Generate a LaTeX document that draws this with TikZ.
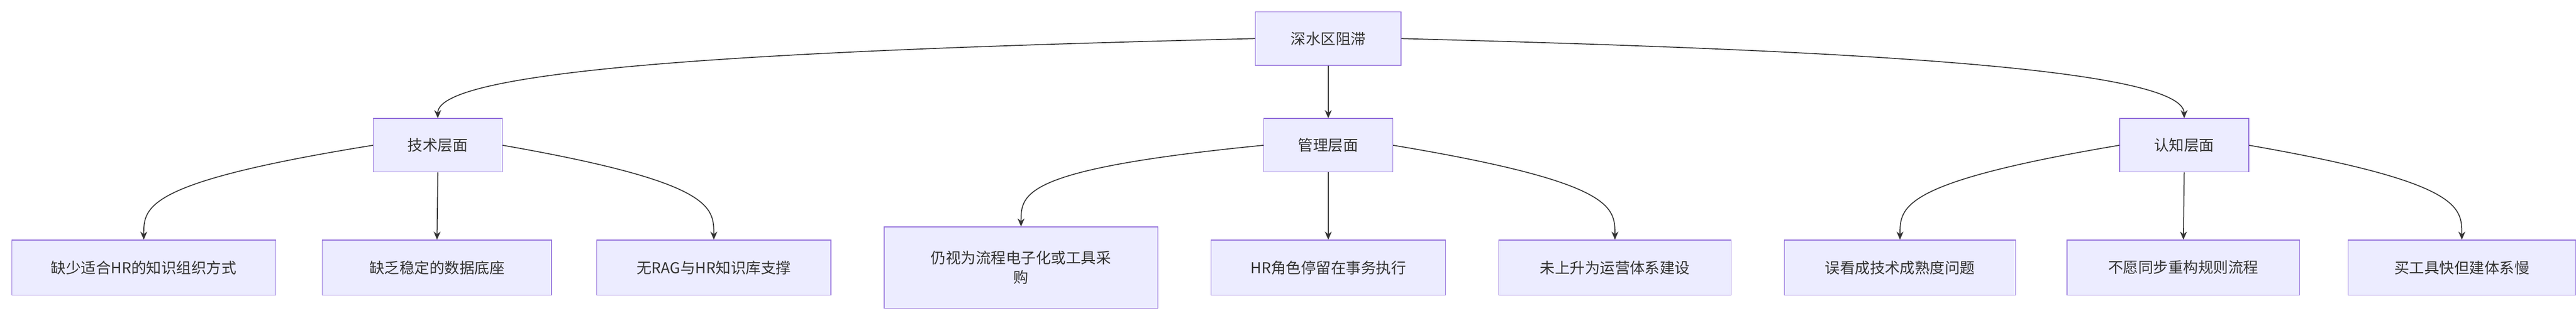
\documentclass[tikz,border=0pt]{standalone}
\usepackage{fontspec}
\newfontfamily\cjk{Noto Sans CJK SC}
\usetikzlibrary{arrows.meta,calc}
\definecolor{nfill}{HTML}{ECECFF}
\definecolor{nborder}{HTML}{9370DB}
\definecolor{edge}{HTML}{333333}
\begin{document}
\begin{tikzpicture}[x=0.05cm,y=-0.05cm,
  box/.style={draw=nborder,fill=nfill,line width=0.6pt,rectangle,inner sep=0pt,font=\cjk\fontsize{13}{17}\selectfont,text=edge,align=center},
  ed/.style={draw=edge,line width=0.8pt,-{Stealth[length=7pt,width=6pt]}}]
\useasboundingbox (0,0) rectangle (1568,193.7);
\def\bx#1#2#3#4#5#6{\node[box,minimum width=#4*0.05cm-0.6pt,minimum height=#5*0.05cm-0.6pt] (#1) at (#2,#3) {#6};}
\bx{r}{808.5}{23.5}{89}{33}{深水区阻滞}
\bx{a}{266.5}{88.5}{79}{33}{技术层面}
\bx{b}{808.5}{88.5}{79}{33}{管理层面}
\bx{c}{1329.5}{88.5}{79}{33}{认知层面}
\bx{a1}{87.5}{163}{161}{34}{缺少适合HR的知识组织方式}
\bx{a2}{266}{163}{140}{34}{缺乏稳定的数据底座}
\bx{a3}{434.5}{163}{143}{34}{无RAG与HR知识库支撑}
\bx{b1}{621.5}{163}{167}{50}{仍视为流程电子化或工具采\\购}
\bx{b2}{808.5}{163}{143}{34}{HR角色停留在事务执行}
\bx{b3}{983}{163}{142}{34}{未上升为运营体系建设}
\bx{c1}{1156.5}{163}{141}{34}{误看成技术成熟度问题}
\bx{c2}{1329}{163}{142}{34}{不愿同步重构规则流程}
\bx{c3}{1498.5}{163}{139}{34}{买工具快但建体系慢}
\draw[ed] (r.west) .. controls (500,30) and (266,40) .. (a.north);
\draw[ed] (r.south) -- (b.north);
\draw[ed] (r.east) .. controls (1100,30) and (1329,40) .. (c.north);
\foreach \p/\q in {a/a1,b/b1,c/c1}{
  \draw[ed] (\p.west) .. controls ($(\q.north)+(0,-35)$) and ($(\q.north)+(0,-20)$) .. (\q.north);}
\foreach \p/\q in {a/a3,b/b3,c/c3}{
  \draw[ed] (\p.east) .. controls ($(\q.north)+(0,-35)$) and ($(\q.north)+(0,-20)$) .. (\q.north);}
\draw[ed] (a.south) -- (a2.north);
\draw[ed] (b.south) -- (b2.north);
\draw[ed] (c.south) -- (c2.north);
\end{tikzpicture}
\end{document}
